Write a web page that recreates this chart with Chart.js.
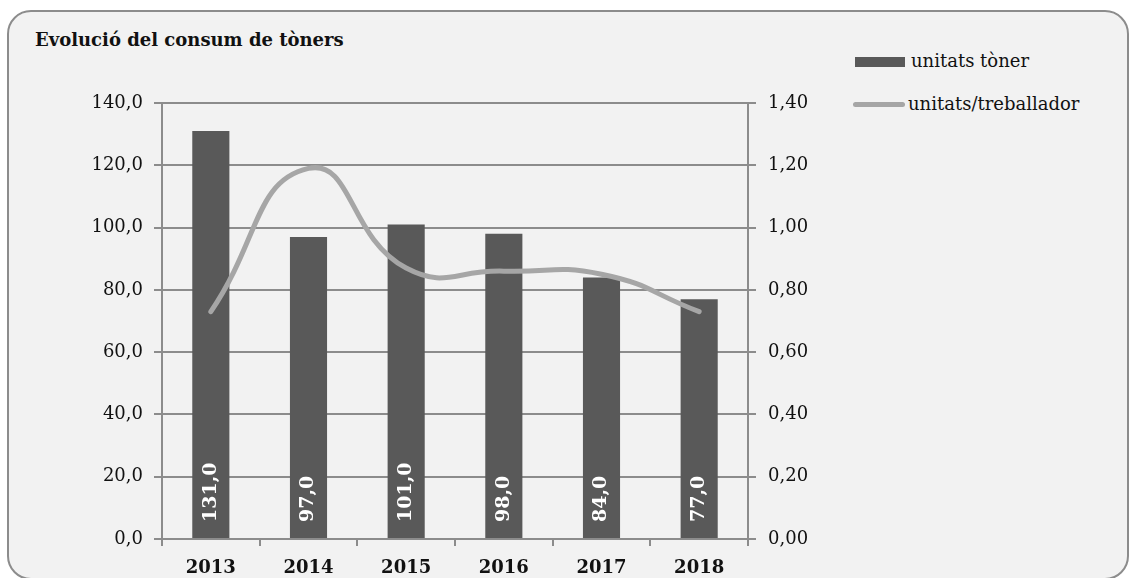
<!DOCTYPE html>
<html>
<head>
<meta charset="utf-8">
<script src="https://cdn.jsdelivr.net/npm/chart.js@4.4.1/dist/chart.umd.min.js"></script>
<style>
  html, body { margin: 0; padding: 0; background: #ffffff; }
  #wrap { position: relative; width: 1129px; height: 578px; overflow: hidden; }
  #frame { position: absolute; left: 7px; top: 10px; width: 1122px; height: 570px; box-sizing: border-box;
           border: 2px solid #8c8c8c; border-radius: 24px; background: #f2f2f2; }
  #title { position: absolute; left: 35px; top: 29px; font-family: "DejaVu Serif", serif; font-weight: bold;
           font-size: 18px; color: #111; white-space: nowrap; }
  .leg { position: absolute; font-family: "DejaVu Serif", serif; font-size: 18px; color: #111; white-space: nowrap; }
  .sw1 { position: absolute; left: 855px; top: 57px; width: 50px; height: 10px; background: #595959; }
  .sw2 { position: absolute; left: 853px; top: 102px; width: 52px; height: 5px; border-radius: 3px; background: #a6a6a6; }
  canvas { position: absolute; left: 0; top: 0; }
</style>
</head>
<body>
<div id="wrap">
  <div id="frame"></div>
  <div id="title">Evolució del consum de tòners</div>
  <div class="sw1"></div>
  <div class="leg" style="left:911px; top:50px;">unitats tòner</div>
  <div class="sw2"></div>
  <div class="leg" style="left:908px; top:93px;">unitats/treballador</div>
  <canvas id="c" width="1129" height="578"></canvas>
</div>
<script>
const categories = ["2013", "2014", "2015", "2016", "2017", "2018"];
const tonerUnits = [131, 97, 101, 98, 84, 77];
const unitsPerWorker = [0.73, 1.19, 0.87, 0.86, 0.85, 0.73];
const leftTicks = [0, 20, 40, 60, 80, 100, 120, 140];
const rightTicks = [0, 0.2, 0.4, 0.6, 0.8, 1.0, 1.2, 1.4];

const FONT = "'DejaVu Serif', serif";
const TXT = "#111111";
const GRID = "#8c8c8c";

const barLabels = {
  id: 'barLabels',
  afterDatasetsDraw(chart) {
    const idx = chart.data.datasets.findIndex(d => d.type === 'bar');
    const meta = chart.getDatasetMeta(idx);
    const ctx = chart.ctx;
    ctx.save();
    ctx.fillStyle = '#ffffff';
    ctx.font = "bold 19px " + FONT;
    ctx.textAlign = 'left';
    ctx.textBaseline = 'middle';
    meta.data.forEach((bar, i) => {
      const v = chart.data.datasets[idx].data[i];
      ctx.save();
      ctx.translate(bar.x, bar.base - 16);
      ctx.rotate(-Math.PI / 2);
      ctx.fillText(v.toFixed(1).replace('.', ','), 0, 0);
      ctx.restore();
    });
    ctx.restore();
  }
};

new Chart(document.getElementById('c'), {
  data: {
    labels: categories,
    datasets: [
      {
        type: 'line',
        label: 'unitats/treballador',
        data: unitsPerWorker,
        yAxisID: 'y2',
        borderColor: '#a6a6a6',
        borderWidth: 5,
        borderCapStyle: 'round',
        borderJoinStyle: 'round',
        pointRadius: 0,
        tension: 0.5,
        fill: false,
        order: 0
      },
      {
        type: 'bar',
        label: 'unitats tòner',
        data: tonerUnits,
        yAxisID: 'y',
        backgroundColor: '#595959',
        barPercentage: 0.76,
        categoryPercentage: 0.5,
        order: 1
      }
    ]
  },
  options: {
    responsive: false,
    animation: false,
    layout: { padding: { top: 103, bottom: 0, left: 0, right: 0 } },
    plugins: { legend: { display: false }, tooltip: { enabled: false }, title: { display: false } },
    scales: {
      x: {
        offset: true,
        grid: { display: true, drawOnChartArea: false, drawTicks: true, tickLength: 7, color: GRID, lineWidth: 2, offset: true },
        border: { display: true, color: GRID, width: 2 },
        ticks: { color: TXT, font: { family: FONT, size: 18, weight: 'bold' }, padding: 12, maxRotation: 0 },
        afterFit(s) { s.height = 39; }
      },
      y: {
        position: 'left',
        min: 0, max: 140,
        afterBuildTicks(s) { s.ticks = leftTicks.map(v => ({ value: v })); },
        grid: { color: GRID, lineWidth: 2, drawTicks: true, tickLength: 8 },
        border: { display: true, color: GRID, width: 2 },
        ticks: { color: TXT, font: { family: FONT, size: 18 }, padding: 11,
                 callback: v => Number(v).toFixed(1).replace('.', ',') },
        afterFit(s) { s.width = 162; }
      },
      y2: {
        position: 'right',
        min: 0, max: 1.4,
        afterBuildTicks(s) { s.ticks = rightTicks.map(v => ({ value: v })); },
        grid: { drawOnChartArea: false, color: GRID, lineWidth: 2, drawTicks: true, tickLength: 8 },
        border: { display: true, color: GRID, width: 2 },
        ticks: { color: TXT, font: { family: FONT, size: 18 }, padding: 12,
                 callback: v => Number(v).toFixed(2).replace('.', ',') },
        afterFit(s) { s.width = 381; }
      }
    }
  },
  plugins: [barLabels]
});
</script>
</body>
</html>
